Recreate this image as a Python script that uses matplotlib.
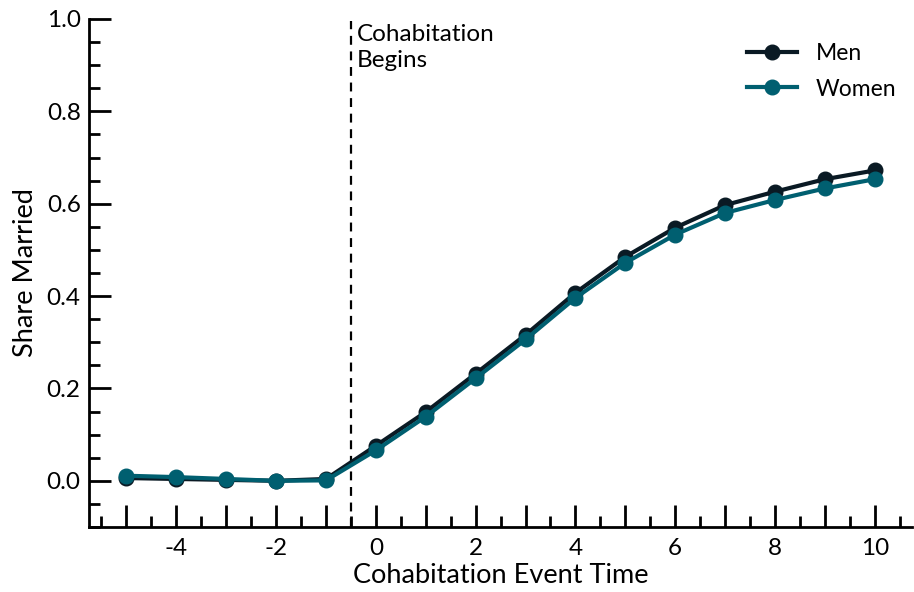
import matplotlib
matplotlib.use("Agg")
import matplotlib.pyplot as plt
from matplotlib.ticker import MultipleLocator, FixedLocator, FuncFormatter

plt.rcParams["font.family"] = ["Lato", "DejaVu Sans"]

# data
event_time = [-5, -4, -3, -2, -1, 0, 1, 2, 3, 4, 5, 6, 7, 8, 9, 10]
men = [0.006, 0.004, 0.002, 0.000, 0.004, 0.076, 0.149, 0.232, 0.316, 0.407,
       0.485, 0.548, 0.597, 0.626, 0.653, 0.672]
women = [0.011, 0.008, 0.004, 0.000, 0.001, 0.066, 0.139, 0.222, 0.306, 0.396,
         0.472, 0.533, 0.580, 0.608, 0.633, 0.653]
cohab_start = -0.5

men_color = "#0a1a24"
women_color = "#005f70"

fig = plt.figure(figsize=(9.14, 5.92), dpi=100)
ax = fig.add_axes([0.0974, 0.1098, 0.9006, 0.8582])

ax.plot(event_time, men, color=men_color, lw=3, marker="o", ms=10.5, label="Men", zorder=3)
ax.plot(event_time, women, color=women_color, lw=3, marker="o", ms=10.5, label="Women", zorder=4)
ax.axvline(cohab_start, ymax=0.995, color="black", ls=(0, (4, 3)), lw=1.6, zorder=2)
ax.text(cohab_start + 0.12, 0.99, "Cohabitation\nBegins", fontsize=17.5, va="top", ha="left",
        linespacing=1.3)

ax.set_xlim(-5.75, 10.75)
ax.set_ylim(-0.1, 1.0)

ax.xaxis.set_major_locator(MultipleLocator(1))
ax.xaxis.set_minor_locator(MultipleLocator(0.5))
ax.xaxis.set_major_formatter(FuncFormatter(lambda v, p: f"{int(v)}" if int(round(v)) % 2 == 0 else ""))
ax.yaxis.set_major_locator(FixedLocator([0.0, 0.2, 0.4, 0.6, 0.8, 1.0]))
ax.yaxis.set_minor_locator(MultipleLocator(0.05))
ax.yaxis.set_major_formatter(FuncFormatter(lambda v, p: f"{v:.1f}"))

ax.tick_params(which="major", direction="in", length=16, width=2, labelsize=17.5, pad=8)
ax.tick_params(which="minor", direction="in", length=8, width=2)
ax.tick_params(axis="y", pad=6)

for side in ["top", "right"]:
    ax.spines[side].set_visible(False)
for side in ["left", "bottom"]:
    ax.spines[side].set_linewidth(2)

ax.set_xlabel("Cohabitation Event Time", fontsize=19.5, labelpad=3)
ax.set_ylabel("Share Married", fontsize=19.5, labelpad=6)

ax.legend(loc="upper right", frameon=False, fontsize=16.5, handlelength=2.2,
          borderaxespad=0.3, bbox_to_anchor=(1.0, 0.985), labelspacing=0.65)

fig.savefig("out.png", dpi=100)
